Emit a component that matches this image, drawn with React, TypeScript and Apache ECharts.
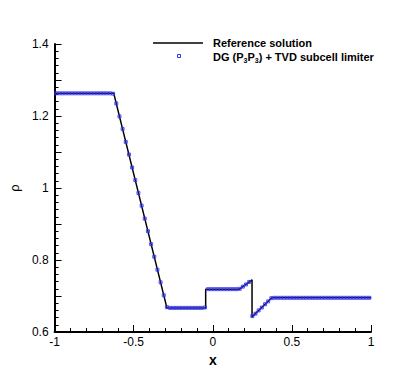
import React, { useEffect, useRef } from "react";
import * as echarts from "echarts";

// Exact (reference) solution breakpoints
const refX = [-1, -0.626, -0.29, -0.045, -0.045, 0.168, 0.248, 0.248, 0.373, 1];
const refRho = [1.263, 1.263, 0.667, 0.667, 0.719, 0.719, 0.745, 0.642, 0.695, 0.695];

// DG (P3P3) + TVD subcell limiter cell values
const dgX = [
  -0.99, -0.97, -0.95, -0.93, -0.91, -0.89, -0.87, -0.85, -0.83, -0.81,
  -0.79, -0.77, -0.75, -0.73, -0.71, -0.69, -0.67, -0.65, -0.63, -0.61,
  -0.59, -0.57, -0.55, -0.53, -0.51, -0.49, -0.47, -0.45, -0.43, -0.41,
  -0.39, -0.37, -0.35, -0.33, -0.31, -0.29, -0.27, -0.25, -0.23, -0.21,
  -0.19, -0.17, -0.15, -0.13, -0.11, -0.09, -0.07, -0.05, -0.03, -0.01,
  0.01, 0.03, 0.05, 0.07, 0.09, 0.11, 0.13, 0.15, 0.17, 0.19,
  0.21, 0.23, 0.25, 0.27, 0.29, 0.31, 0.33, 0.35, 0.37, 0.39,
  0.41, 0.43, 0.45, 0.47, 0.49, 0.51, 0.53, 0.55, 0.57, 0.59,
  0.61, 0.63, 0.65, 0.67, 0.69, 0.71, 0.73, 0.75, 0.77, 0.79,
  0.81, 0.83, 0.85, 0.87, 0.89, 0.91, 0.93, 0.95, 0.97, 0.99,
];
const dgRho = [
  1.263, 1.263, 1.263, 1.263, 1.263, 1.263, 1.263, 1.263, 1.263, 1.263,
  1.263, 1.263, 1.263, 1.263, 1.263, 1.263, 1.263, 1.263, 1.262, 1.235,
  1.199, 1.164, 1.128, 1.093, 1.057, 1.022, 0.986, 0.951, 0.915, 0.880,
  0.844, 0.809, 0.773, 0.738, 0.702, 0.669, 0.667, 0.667, 0.667, 0.667,
  0.667, 0.667, 0.667, 0.667, 0.667, 0.667, 0.667, 0.668, 0.719, 0.719,
  0.719, 0.719, 0.719, 0.719, 0.719, 0.719, 0.719, 0.719, 0.720, 0.726,
  0.732, 0.739, 0.644, 0.651, 0.660, 0.668, 0.677, 0.685, 0.694, 0.695,
  0.695, 0.695, 0.695, 0.695, 0.695, 0.695, 0.695, 0.695, 0.695, 0.695,
  0.695, 0.695, 0.695, 0.695, 0.695, 0.695, 0.695, 0.695, 0.695, 0.695,
  0.695, 0.695, 0.695, 0.695, 0.695, 0.695, 0.695, 0.695, 0.695, 0.695,
];

const xTickLabels = ["-1", "-0.5", "0", "0.5", "1"];
const yTickLabels = ["0.6", "0.8", "1", "1.2", "1.4"];
const legendNames = ["Reference solution", "DG (P3P3) + TVD subcell limiter"];

const FONT = "'Liberation Sans', Arial, Helvetica, sans-serif";
const BLUE = "#3030ff";

export default function App() {
  const ref = useRef<HTMLDivElement>(null);
  useEffect(() => {
    if (!ref.current) return;
    const chart = echarts.init(ref.current, null, { renderer: "svg" });
    const refData = refX.map((x, i) => [x, refRho[i]]);
    const dgData = dgX.map((x, i) => [x, dgRho[i]]);
    chart.setOption({
      animation: false,
      backgroundColor: "#ffffff",
      grid: { left: 52, right: 48, top: 44, bottom: 40, containLabel: false },
      xAxis: {
        type: "value",
        min: -1,
        max: 1,
        interval: 0.5,
        name: "x",
        nameLocation: "middle",
        nameGap: 15,
        nameTextStyle: { fontFamily: FONT, fontSize: 14, fontWeight: "bold", color: "#000" },
        axisLine: { show: true, onZero: false, lineStyle: { color: "#000", width: 2 } },
        axisTick: { show: true, inside: true, length: 7, lineStyle: { color: "#000", width: 1 } },
        minorTick: { show: true, splitNumber: 5, length: 4, lineStyle: { color: "#000", width: 1 } },
        splitLine: { show: false },
        axisLabel: {
          fontFamily: FONT,
          fontSize: 12,
          color: "#000",
          margin: 4,
          formatter: (v: number) => {
            const idx = Math.round((v + 1) / 0.5);
            return xTickLabels[idx] ?? "";
          },
        },
      },
      yAxis: {
        type: "value",
        min: 0.6,
        max: 1.4,
        interval: 0.1,
        name: "ρ",
        nameLocation: "middle",
        nameGap: 31,
        nameRotate: 90,
        nameTextStyle: { fontFamily: FONT, fontSize: 13, color: "#000" },
        axisLine: { show: true, onZero: false, lineStyle: { color: "#000", width: 2 } },
        axisTick: { show: true, inside: true, length: 7, lineStyle: { color: "#000", width: 1 } },
        minorTick: { show: true, splitNumber: 5, length: 4, lineStyle: { color: "#000", width: 1 } },
        splitLine: { show: false },
        axisLabel: {
          fontFamily: FONT,
          fontSize: 12,
          color: "#000",
          margin: 6,
          padding: [0, 0, 8, 0],
          formatter: (v: number) => {
            const k = Math.round(v * 10);
            if (k % 2 !== 0) return "";
            const idx = (k - 6) / 2;
            return yTickLabels[idx] ?? "";
          },
        },
      },
      series: [
        {
          name: legendNames[0],
          type: "line",
          data: refData,
          showSymbol: false,
          symbol: "none",
          lineStyle: { color: "#000", width: 1.5 },
          z: 2,
        },
        {
          name: legendNames[1],
          type: "scatter",
          data: dgData,
          symbol: "rect",
          symbolSize: 3,
          itemStyle: { color: "rgba(80,80,255,0.35)", borderColor: BLUE, borderWidth: 1 },
          z: 3,
        },
      ],
      graphic: [
        {
          type: "line",
          shape: { x1: 153, y1: 43, x2: 203, y2: 43 },
          style: { stroke: "#000", lineWidth: 1.5 },
        },
        {
          type: "text",
          x: 213,
          y: 43,
          style: {
            text: legendNames[0],
            font: `bold 11px ${FONT}`,
            fill: "#000",
            verticalAlign: "middle",
          },
        },
        {
          type: "rect",
          shape: { x: 177.5, y: 54.5, width: 3, height: 3 },
          style: { fill: "none", stroke: BLUE, lineWidth: 1 },
        },
        {
          type: "text",
          x: 213,
          y: 57,
          style: {
            text: "{b|DG (P}{s|3}{b|P}{s|3}{b|) + TVD subcell limiter}",
            verticalAlign: "middle",
            rich: {
              b: { fontFamily: FONT, fontSize: 11, fontWeight: "bold", fill: "#000", lineHeight: 14, verticalAlign: "middle" },
              s: { fontFamily: FONT, fontSize: 7, fontWeight: "bold", fill: "#000", lineHeight: 14, verticalAlign: "bottom", padding: [6, 0, 0, 0] },
            },
          },
        },
      ],
    });
    return () => chart.dispose();
  }, []);
  return (
    <div
      ref={ref}
      style={{ position: "fixed", left: 0, top: 0, width: 419, height: 372, background: "#fff" }}
    />
  );
}
